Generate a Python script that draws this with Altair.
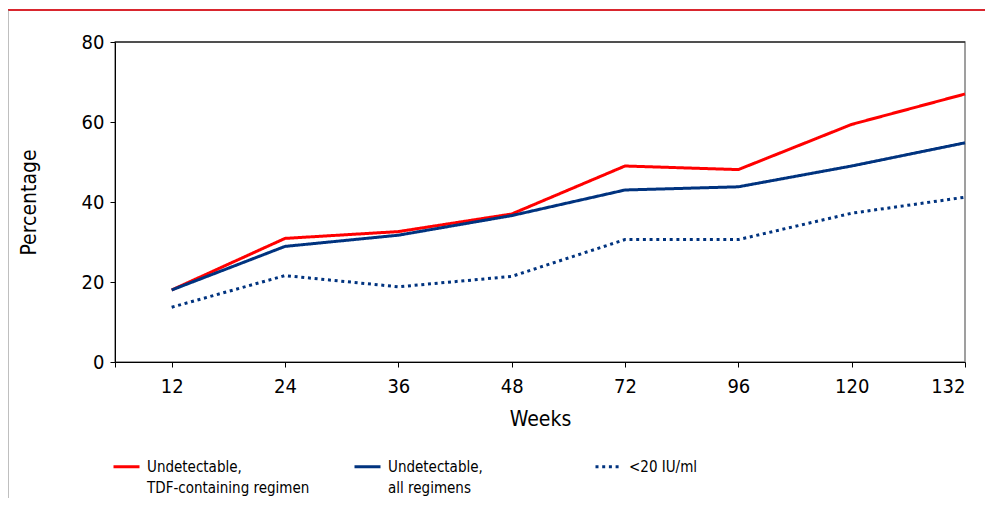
import altair as alt
import pandas as pd

weeks = [12, 24, 36, 48, 72, 96, 120, 132]
series_names = [
    "Undetectable,\nTDF-containing regimen",
    "Undetectable,\nall regimens",
    "<20 IU/ml\n ",
]
tdf_values = [18.0, 30.9, 32.6, 37.0, 49.0, 48.1, 59.4, 67.0]
all_values = [18.0, 28.9, 31.7, 36.6, 43.0, 43.8, 49.0, 54.8]
iu20_values = [13.7, 21.6, 18.8, 21.4, 30.6, 30.6, 37.2, 41.2]
colors = ["#FF0000", "#00337F", "#00337F"]
dashes = [[1, 0], [1, 0], [3, 3.7]]

rows = []
for name, vals in zip(series_names, [tdf_values, all_values, iu20_values]):
    for i, (w, v) in enumerate(zip(weeks, vals)):
        rows.append({"idx": i, "week": w, "value": v, "series": name})
df = pd.DataFrame(rows)

FONT = "DejaVu Sans Condensed, Liberation Sans, sans-serif"
W, H = 850, 320

label_expr = "datum.value < 0 ? '' : " + str(weeks) + "[datum.value]"

lines = alt.Chart(df).mark_line(strokeWidth=3, clip=False).encode(
    x=alt.X(
        "idx:Q",
        scale=alt.Scale(domain=[-0.5, len(weeks) - 1], nice=False, zero=False),
        axis=alt.Axis(
            title="Weeks",
            values=[-0.5] + list(range(len(weeks))),
            labelExpr=label_expr,
            grid=False,
            domainColor="#000000",
            tickColor="#000000",
            tickSize=5,
            labelPadding=9,
            labelFontSize=20,
            labelColor="#000000",
            labelFont=FONT,
            titleFont=FONT,
            titleFontSize=21,
            titleFontWeight="normal",
            titleColor="#000000",
            titlePadding=12,
        ),
    ),
    y=alt.Y(
        "value:Q",
        scale=alt.Scale(domain=[0, 80], nice=False),
        axis=alt.Axis(
            title="Percentage",
            values=[0, 20, 40, 60, 80],
            grid=False,
            domainColor="#000000",
            tickColor="#000000",
            tickSize=5,
            labelPadding=6,
            labelFontSize=20,
            labelColor="#000000",
            labelFont=FONT,
            titleFont=FONT,
            titleFontSize=21,
            titleFontWeight="normal",
            titleColor="#000000",
            titlePadding=42,
        ),
    ),
    color=alt.Color(
        "series:N",
        sort=series_names,
        scale=alt.Scale(domain=series_names, range=colors),
        legend=alt.Legend(
            title=None,
            orient="none",
            legendX=-3,
            legendY=410,
            direction="horizontal",
            columns=3,
            gridAlign="all",
            columnPadding=38,
            symbolType="stroke",
            symbolSize=676,
            symbolStrokeWidth=3,
            labelExpr="split(datum.label, '\\n')",
            labelFont=FONT,
            labelFontSize=15,
            labelColor="#000000",
            labelOffset=6,
            labelLimit=400,
        ),
    ),
    strokeDash=alt.StrokeDash(
        "series:N",
        sort=series_names,
        scale=alt.Scale(domain=series_names, range=dashes),
        legend=None,
    ),
)

# decorative frame lines of the page/slide
frame_df = pd.DataFrame({"a": [0]})
red_top = alt.Chart(frame_df).mark_rule(color="#D9262E", strokeWidth=2, clip=False).encode(
    x=alt.value(-107), x2=alt.value(870), y=alt.value(-32)
)
gray_left = alt.Chart(frame_df).mark_rule(color="#808080", strokeWidth=1, clip=False).encode(
    x=alt.value(-107), y=alt.value(-32), y2=alt.value(470)
)
top_border = alt.Chart(frame_df).mark_rule(color="#000000", strokeWidth=1, clip=False).encode(
    x=alt.value(0), x2=alt.value(W), y=alt.value(0)
)

chart = alt.layer(red_top, gray_left, top_border, lines).properties(
    width=W,
    height=H,
    autosize=alt.AutoSizeParams(type="none"),
    padding={"left": 107, "top": 34, "right": 20, "bottom": 136},
    background="#FFFFFF",
).configure(
    style={"guide-label": {"lineHeight": 21}}
).configure_view(
    stroke="#808080", strokeWidth=1.5
)

chart.save("out.html", embed_options={"renderer": "svg", "actions": False})
